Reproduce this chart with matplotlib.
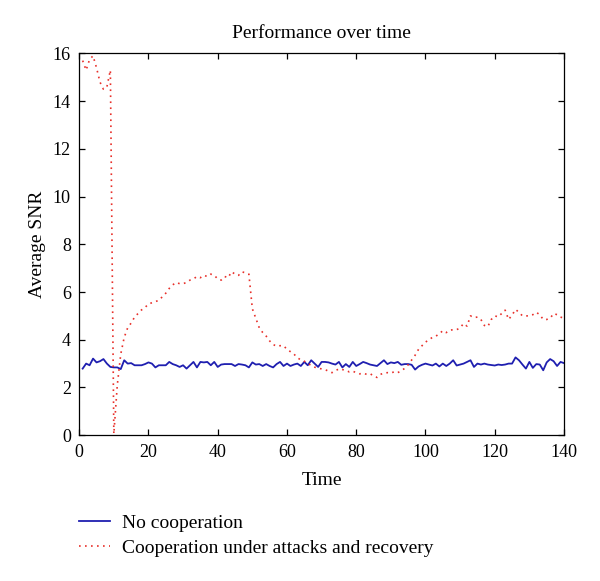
import numpy as np
import matplotlib
matplotlib.use('Agg')
import matplotlib.pyplot as plt

plt.rcParams['font.family'] = ['Liberation Serif', 'DejaVu Serif']

# dati
tempo = np.arange(1, 141)

snr_no_coop = [
    2.79, 3.0, 2.93, 3.21, 3.05, 3.1, 3.19, 3.0, 2.86, 2.84,
    2.84, 2.77, 3.14, 3.0, 3.02, 2.93, 2.93, 2.93, 2.98, 3.05,
    3.0, 2.84, 2.93, 2.93, 2.93, 3.07, 2.98, 2.93, 2.86, 2.93,
    2.79, 2.93, 3.07, 2.84, 3.07, 3.05, 3.07, 2.93, 3.07, 2.86,
    2.96, 2.98, 2.98, 2.98, 2.9, 2.98,
    2.96, 2.93, 2.84, 3.05, 2.96, 2.98, 2.9, 2.98, 2.9, 2.84,
    2.98, 3.07, 2.9, 3.0, 2.9, 2.96, 3.0, 2.9, 3.07, 2.93,
    3.14, 3.0, 2.86, 3.07, 3.07, 3.05, 3.0, 2.96, 3.07, 2.84,
    2.98, 2.86, 3.07, 2.9, 2.98, 3.07, 3.02, 2.96, 2.93, 2.9,
    3.02, 3.14, 2.98, 3.05, 3.02, 3.07,
    2.95, 2.98, 2.98, 2.95, 2.75, 2.88, 2.95, 3.0, 2.96, 2.92,
    3.0, 2.88, 3.0, 2.9, 3.0, 3.14, 2.92, 2.96, 3.0, 3.07,
    3.14, 2.86, 3.0, 2.96, 3.0, 2.96, 2.94, 2.92, 2.96, 2.94,
    2.96, 3.0, 3.0, 3.26, 3.14, 2.96, 2.79, 3.07, 2.82, 2.98,
    2.96, 2.72, 3.05, 3.19, 3.1, 2.9, 3.07, 3.02,
]

snr_attacchi = [
    15.7, 15.3, 15.75, 15.9, 15.4, 14.8, 14.5, 14.6, 15.3, 0.05,
    2.1, 3.4, 4.1, 4.5, 4.7, 4.95, 5.1, 5.25, 5.35, 5.5,
    5.55, 5.6, 5.65, 5.8, 5.95, 6.15, 6.3, 6.4, 6.35, 6.35,
    6.4, 6.5, 6.55, 6.65, 6.6, 6.7, 6.65, 6.75, 6.7, 6.55,
    6.5, 6.65, 6.6, 6.85, 6.75, 6.7, 6.85, 6.8, 6.75, 5.3,
    4.9, 4.5, 4.3, 4.15, 3.95, 3.8, 3.73, 3.75, 3.75, 3.6,
    3.5, 3.4, 3.25, 3.15, 3.1, 3.0, 2.93, 2.85, 2.8, 2.78,
    2.75, 2.68, 2.62, 2.7, 2.78, 2.75, 2.72, 2.65, 2.68, 2.62,
    2.57, 2.6, 2.55, 2.58, 2.48, 2.42, 2.55, 2.6, 2.62, 2.6,
    2.66, 2.62, 2.7, 2.8, 2.95, 3.15, 3.35, 3.6, 3.75, 3.9,
    4.0, 4.1, 4.15, 4.25, 4.38, 4.3, 4.4, 4.42, 4.42, 4.5,
    4.68, 4.57, 5.0, 4.93, 4.95, 4.85, 4.6, 4.55, 4.85, 5.0,
    4.96, 5.1, 5.24, 4.85, 5.03, 5.27, 5.15, 5.0, 5.0, 5.0,
    5.05, 5.15, 5.05, 4.85, 4.85, 4.9, 5.1, 5.05, 4.95, 4.9,
]

fig = plt.figure(figsize=(6, 5.81), dpi=100)
ax = fig.add_axes([0.132, 0.251, 0.808, 0.657])

ax.plot(tempo, snr_no_coop, color='#1f1fb0', lw=1.3, label='No cooperation')
ax.plot(tempo, snr_attacchi, color='#e8302a', lw=1.2, linestyle=(0, (1, 2.6)),
        label='Cooperation under attacks and recovery')

ax.set_xlim(0, 140)
ax.set_ylim(0, 16)
ax.set_xticks(np.arange(0, 141, 20))
ax.set_yticks(np.arange(0, 17, 2))
ax.tick_params(direction='in', top=True, right=True, length=4, width=0.9,
               labelsize=13, pad=6)
for s in ax.spines.values():
    s.set_linewidth(0.9)

ax.set_title('Performance over time', fontsize=14, pad=11)
ax.set_xlabel('Time', fontsize=14, labelpad=8)
ax.set_ylabel('Average SNR', fontsize=14, labelpad=5)

fig.legend(loc='center left', bbox_to_anchor=(0.132, 0.078), frameon=False,
           fontsize=14, handlelength=1.6, handletextpad=0.6, labelspacing=0.35,
           borderpad=0, borderaxespad=0)

fig.savefig('out.png', dpi=100)
